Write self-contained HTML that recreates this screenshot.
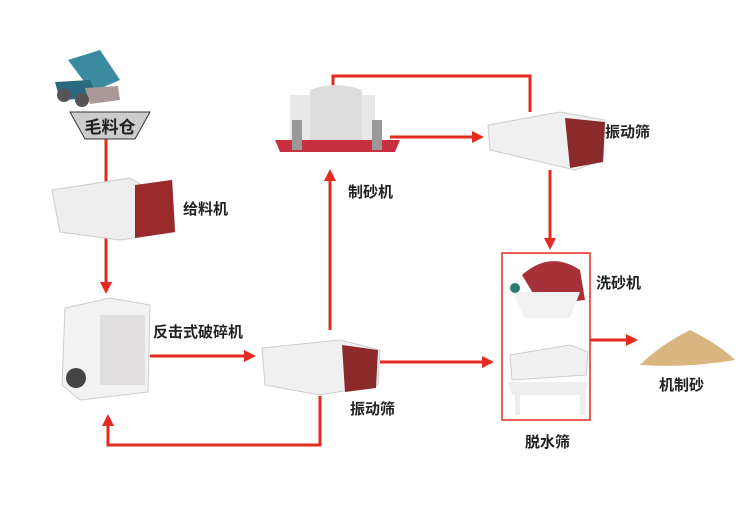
<!DOCTYPE html>
<html><head><meta charset="utf-8"><style>
body{margin:0;background:#fff}
svg text{font-family:"Liberation Sans","Noto Sans CJK SC",sans-serif;font-weight:bold;fill:#222}
</style></head><body>
<svg width="750" height="500" viewBox="0 0 750 500" xmlns="http://www.w3.org/2000/svg">
<defs><marker id="a" markerWidth="4" markerHeight="4" refX="2" refY="2" orient="auto" markerUnits="strokeWidth"><path d="M0,0 L4,2 L0,4z" fill="#e52a1f"/></marker></defs>
<g stroke="#e52a1f" stroke-width="3" fill="none">
<path d="M106,138 V288" marker-end="url(#a)"/>
<path d="M150,356 H250" marker-end="url(#a)"/>
<path d="M320,396 V445 H108 V420" marker-end="url(#a)"/>
<path d="M330,330 V175" marker-end="url(#a)"/>
<path d="M390,137 H478" marker-end="url(#a)"/>
<path d="M530,112 V76 H333 V92" marker-end="url(#a)"/>
<path d="M550,170 V244" marker-end="url(#a)"/>
<path d="M380,362 H488" marker-end="url(#a)"/>
<path d="M590,340 H632" marker-end="url(#a)"/>
</g>
<rect x="502" y="253" width="88" height="167" fill="none" stroke="#e52a1f" stroke-width="1.5"/>
<!-- truck -->
<path d="M68,60 L100,50 L120,80 L92,92z" fill="#3a8aa0"/>
<path d="M55,82 L90,80 L98,98 L60,100z" fill="#2a6a80"/>
<path d="M85,88 L118,86 L120,100 L90,104z" fill="#a99"/>
<circle cx="64" cy="95" r="7" fill="#555"/><circle cx="82" cy="100" r="7" fill="#555"/>
<!-- hopper -->
<path d="M70,112 H150 L135,139 H85z" fill="#ccc" stroke="#333" stroke-width="1"/>
<text x="110" y="133" font-size="17" text-anchor="middle" font-weight="normal">毛料仓</text>
<!-- feeder -->
<path d="M52,190 L130,178 L142,185 L172,180 L175,232 L120,240 L60,232z" fill="#eee" stroke="#ccc"/>
<path d="M135,185 L172,180 L175,232 L135,238z" fill="#9a2a2a"/>
<text x="183" y="214" font-size="15">给料机</text>
<!-- crusher -->
<path d="M65,308 L110,298 L150,305 L148,392 L80,400 L62,385z" fill="#f2f2f2" stroke="#ccc"/>
<rect x="100" y="315" width="45" height="70" fill="#e0dede"/>
<circle cx="76" cy="378" r="10" fill="#444"/>
<text x="153" y="337" font-size="15">反击式破碎机</text>
<!-- screen 1 -->
<path d="M262,348 L340,340 L380,350 L378,385 L320,395 L265,385z" fill="#f0f0f0" stroke="#ccc"/>
<path d="M342,345 L378,350 L376,388 L345,392z" fill="#8a2a2a"/>
<text x="350" y="414" font-size="15">振动筛</text>
<!-- sand maker -->
<rect x="290" y="95" width="85" height="50" fill="#e8e8e8"/>
<path d="M310,90 Q335,80 362,90 L362,150 L310,150z" fill="#ddd"/>
<path d="M275,140 H400 L395,152 H280z" fill="#c83040"/>
<rect x="292" y="120" width="10" height="30" fill="#999"/><rect x="372" y="120" width="10" height="30" fill="#999"/>
<text x="348" y="197" font-size="15">制砂机</text>
<!-- screen 2 -->
<path d="M488,125 L560,112 L605,120 L603,160 L575,170 L490,150z" fill="#f0f0f0" stroke="#ccc"/>
<path d="M565,118 L605,122 L603,162 L570,168z" fill="#8a2a2a"/>
<text x="605" y="137" font-size="15">振动筛</text>
<!-- sand washer -->
<path d="M522,275 Q550,250 580,270 L585,300 L540,305z" fill="#a83038"/>
<path d="M512,292 H580 L570,318 H525z" fill="#f2f2f2"/>
<circle cx="515" cy="288" r="5" fill="#2a7a70"/>
<text x="596" y="288" font-size="15">洗砂机</text>
<!-- dewatering screen -->
<path d="M510,355 L570,345 L588,352 L586,375 L512,380z" fill="#f0f0f0" stroke="#ccc"/>
<path d="M508,382 H588 L585,395 H512z" fill="#eee"/>
<rect x="515" y="385" width="5" height="30" fill="#eee"/><rect x="580" y="385" width="5" height="30" fill="#eee"/>
<text x="525" y="447" font-size="15">脱水筛</text>
<!-- sand -->
<path d="M640,365 Q660,345 690,330 Q720,345 735,360 Q690,368 640,365z" fill="#d9b680"/>
<text x="659" y="390" font-size="15">机制砂</text>
</svg>
</body></html>
